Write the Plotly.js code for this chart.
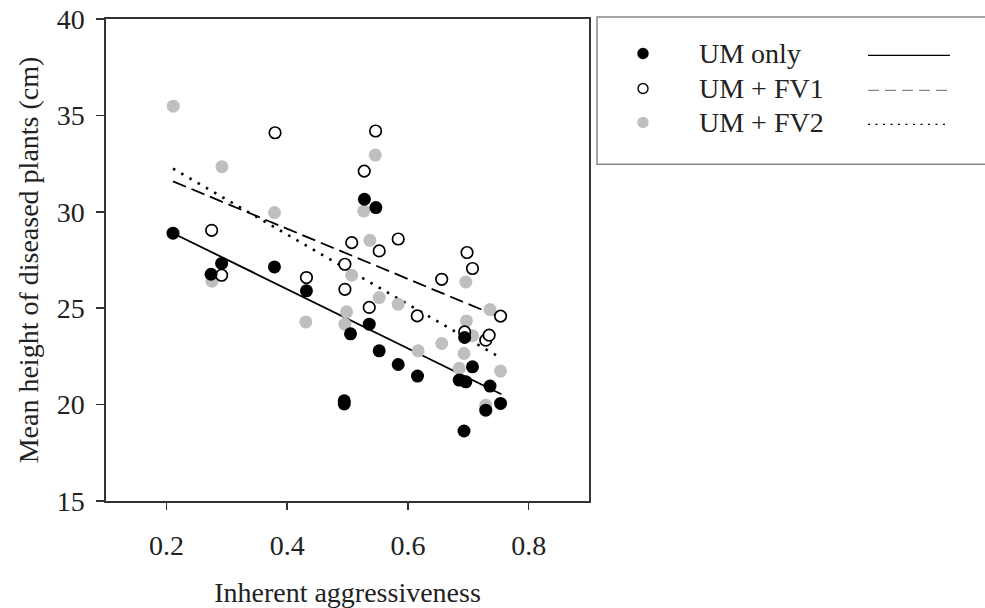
<!DOCTYPE html>
<html>
<head>
<meta charset="utf-8">
<script src="https://cdn.plot.ly/plotly-3.0.1.min.js"></script>
<style>
  html, body { margin: 0; padding: 0; background: #fff; }
  #chart { width: 985px; height: 608px; }
</style>
</head>
<body>
<div id="chart"></div>
<script>
// Mean height of diseased plants vs inherent aggressiveness of the isolates
const umOnlyX = [0.211, 0.274, 0.2915, 0.379, 0.432, 0.4946, 0.4946, 0.505, 0.528, 0.536, 0.547,
                 0.5525, 0.584, 0.616, 0.685, 0.693, 0.694, 0.696, 0.707, 0.729, 0.736, 0.7535];
const umOnlyY = [28.89, 26.76, 27.32, 27.14, 25.90, 20.20, 20.03, 23.67, 30.65, 24.17, 30.22,
                 22.79, 22.08, 21.48, 21.27, 18.63, 23.48, 21.18, 21.96, 19.71, 20.96, 20.06];

const fv1X = [0.275, 0.2915, 0.380, 0.432, 0.4957, 0.4957, 0.507, 0.5277, 0.536, 0.5465,
              0.5525, 0.584, 0.6155, 0.656, 0.694, 0.698, 0.707, 0.729, 0.7346, 0.7535];
const fv1Y = [29.04, 26.71, 34.10, 26.59, 27.28, 25.98, 28.40, 32.11, 25.04, 34.19,
              27.97, 28.59, 24.60, 26.50, 23.77, 27.89, 27.06, 23.34, 23.60, 24.59];

const fv2X = [0.2114, 0.2755, 0.292, 0.379, 0.431, 0.4985, 0.4957, 0.507, 0.527, 0.537, 0.546,
              0.5525, 0.584, 0.617, 0.656, 0.685, 0.693, 0.696, 0.697, 0.707, 0.729, 0.736, 0.7535];
const fv2Y = [35.48, 26.40, 32.34, 29.96, 24.29, 24.81, 24.17, 26.71, 30.04, 28.52, 32.94,
              25.55, 25.21, 22.79, 23.17, 21.88, 22.65, 26.36, 24.34, 23.57, 19.97, 24.93, 21.74];

// Fitted regression lines (end points)
const fitX = [0.211, 0.755];
const fitUmOnly = [28.89, 20.54];
const fitFv1 = [31.58, 24.50];
const fitFv2 = [32.24, 22.40];

const xTicks = [0.2, 0.4, 0.6, 0.8];
const yTicks = [15, 20, 25, 30, 35, 40];
const seriesNames = ['UM only', 'UM + FV1', 'UM + FV2'];

const FONT = 'Liberation Serif, Times New Roman, serif';
const GREY = '#bfbfbf';

// plot area in pixels
const W = 985, H = 608;
const plotL = 106, plotR = 589, plotT = 18.5, plotB = 501;
const px = x => (x - plotL) / (plotR - plotL);
const py = y => (plotB - y) / (plotB - plotT);

const traces = [
  { x: fitX, y: fitUmOnly, mode: 'lines', line: { color: '#000', width: 1.8 }, hoverinfo: 'skip' },
  { x: fitX, y: fitFv1, mode: 'lines', line: { color: '#000', width: 1.8, dash: '14px,6px' }, hoverinfo: 'skip' },
  { x: fitX, y: fitFv2, mode: 'lines', line: { color: '#000', width: 2.6, dash: '2.5px,7px' }, hoverinfo: 'skip' },
  { x: fv2X, y: fv2Y, mode: 'markers', name: seriesNames[2],
    marker: { size: 13, color: GREY, line: { width: 0 } } },
  { x: fv1X, y: fv1Y, mode: 'markers', name: seriesNames[1],
    marker: { size: 11.5, color: '#fff', line: { width: 1.7, color: '#000' } } },
  { x: umOnlyX, y: umOnlyY, mode: 'markers', name: seriesNames[0],
    marker: { size: 13, color: '#000', line: { width: 0 } } }
];

// custom legend: marker, label, line sample on each row
const rowsY = [53, 88, 122];
const markerX = 643, textX = 697, lineX0 = 868, lineX1 = 950;
const legendMarkers = [
  { fill: '#000', line: '#000' },
  { fill: '#fff', line: '#000' },
  { fill: GREY, line: GREY }
];
const legendDash = ['solid', '11px,6px', '2px,5.5px'];
const legendLineColor = ['#000', '#888', '#000'];

const shapes = [
  { type: 'rect', xref: 'paper', yref: 'paper', x0: px(597), x1: px(995), y0: py(164), y1: py(16.5),
    line: { color: '#888', width: 1.5 }, fillcolor: 'rgba(0,0,0,0)' }
];
const annotations = [];
rowsY.forEach((ry, i) => {
  shapes.push({
    type: 'circle', xref: 'paper', yref: 'paper', xsizemode: 'pixel', ysizemode: 'pixel',
    xanchor: px(markerX), yanchor: py(ry), x0: -5, x1: 5, y0: -5, y1: 5,
    fillcolor: legendMarkers[i].fill, line: { color: legendMarkers[i].line, width: 1.4 }
  });
  shapes.push({
    type: 'line', xref: 'paper', yref: 'paper', x0: px(lineX0), x1: px(lineX1), y0: py(ry + 2), y1: py(ry + 2),
    line: { color: legendLineColor[i], width: 1.3, dash: legendDash[i] }
  });
  annotations.push({
    xref: 'paper', yref: 'paper', x: px(textX), y: py(ry), xanchor: 'left', yanchor: 'middle',
    text: seriesNames[i], showarrow: false, font: { family: FONT, size: 28, color: '#222' }
  });
});

const layout = {
  width: W, height: H,
  margin: { l: plotL, r: W - plotR, t: plotT, b: H - plotB, pad: 0 },
  paper_bgcolor: '#fff', plot_bgcolor: '#fff',
  showlegend: false,
  font: { family: FONT, size: 28, color: '#222' },
  xaxis: {
    range: [0.1, 0.9], tickvals: xTicks, ticktext: xTicks.map(v => v.toFixed(1)),
    ticks: 'outside', ticklen: 7, tickwidth: 1.5, tickcolor: '#333',
    showline: true, linecolor: '#333', linewidth: 1.6, mirror: true,
    showgrid: false, zeroline: false, ticklabelstandoff: 12,
    tickfont: { family: FONT, size: 28, color: '#222' },
    title: { text: 'Inherent aggressiveness', standoff: 22, font: { family: FONT, size: 28, color: '#222' } }
  },
  yaxis: {
    range: [15, 40], tickvals: yTicks,
    ticks: 'outside', ticklen: 8, tickwidth: 1.5, tickcolor: '#333',
    showline: true, linecolor: '#333', linewidth: 1.6, mirror: true,
    showgrid: false, zeroline: false, ticklabelstandoff: 6,
    tickfont: { family: FONT, size: 28, color: '#222' },
    title: { text: 'Mean height of diseased plants (cm)', standoff: 10, font: { family: FONT, size: 28, color: '#222' } }
  },
  shapes: shapes,
  annotations: annotations
};

Plotly.newPlot('chart', traces, layout, { staticPlot: true, displayModeBar: false });
</script>
</body>
</html>
